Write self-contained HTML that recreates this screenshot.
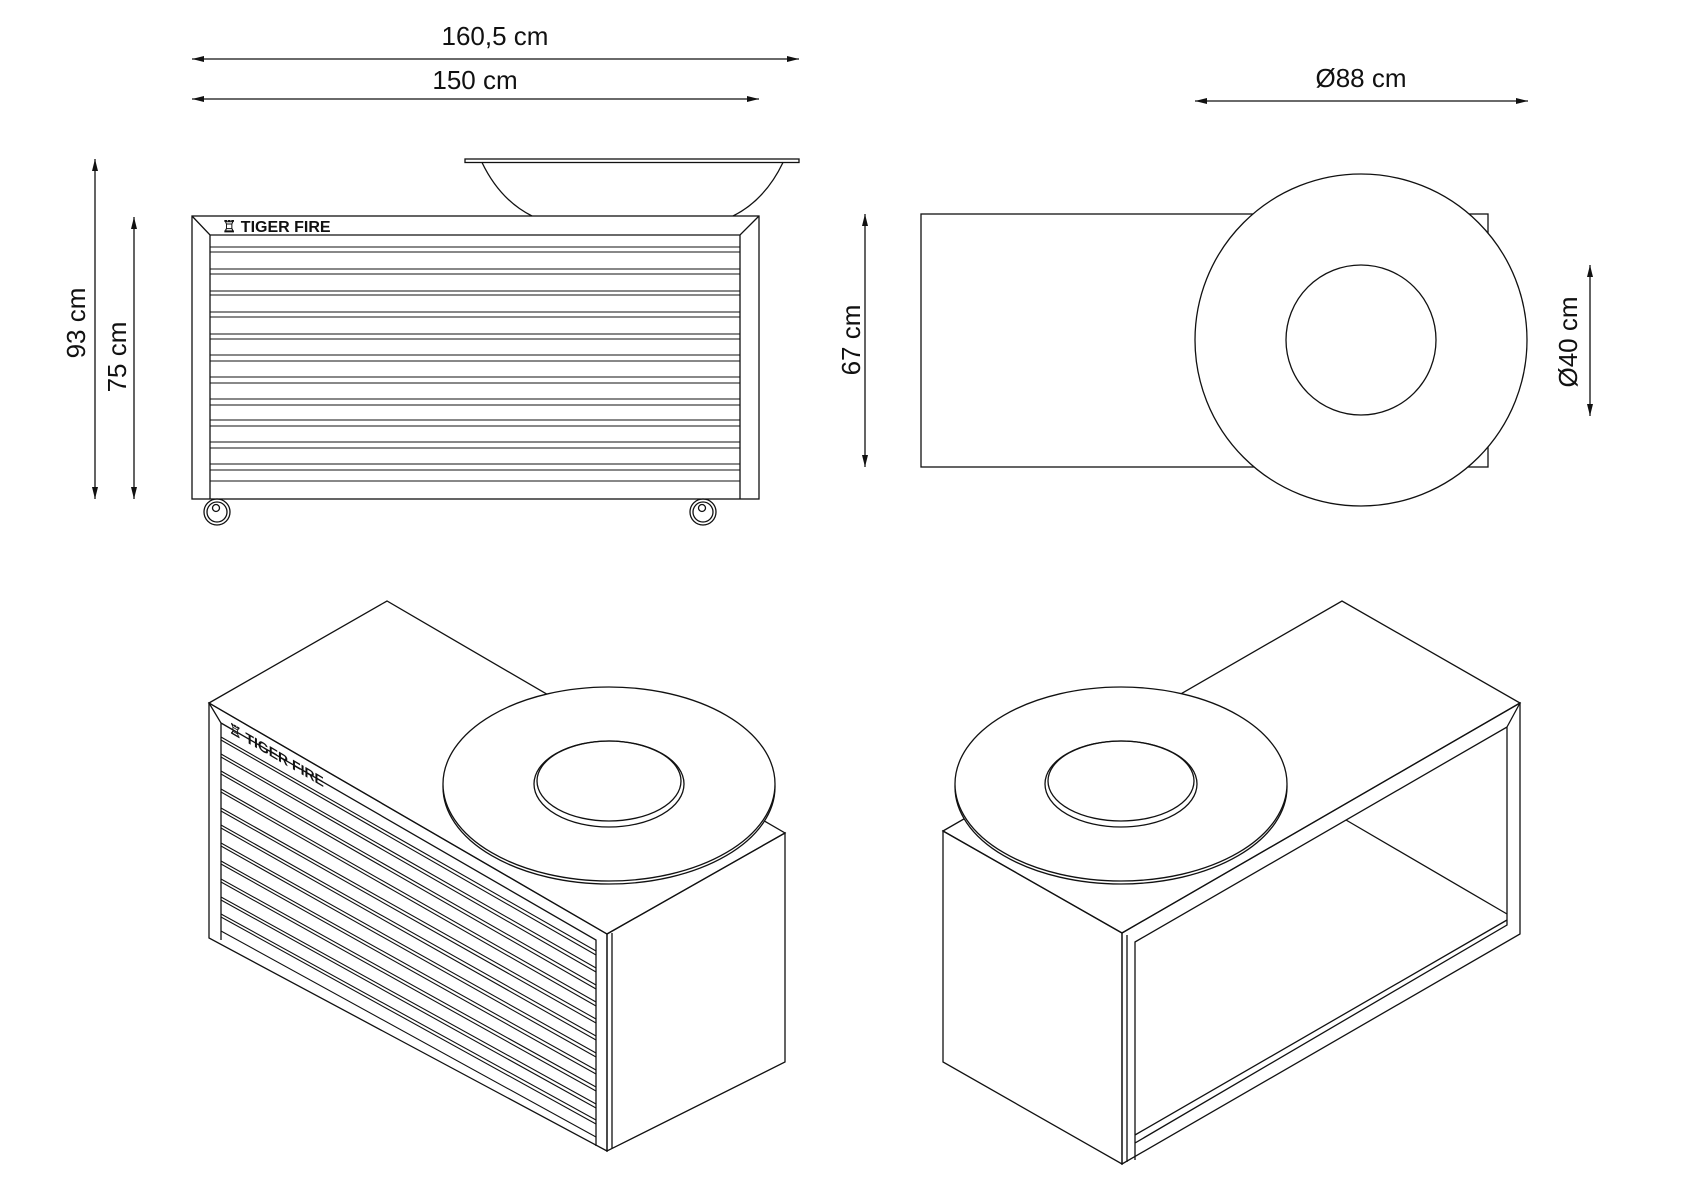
<!DOCTYPE html>
<html><head><meta charset="utf-8"><style>
html,body{margin:0;padding:0;background:#fff;}
svg{display:block;}
text{font-family:"Liberation Sans",sans-serif;fill:#111;}
</style></head><body>
<svg width="1684" height="1190" viewBox="0 0 1684 1190" xmlns="http://www.w3.org/2000/svg">
<defs>
<marker id="a" viewBox="0 0 12 6" refX="12" refY="3" markerWidth="12" markerHeight="6" orient="auto-start-reverse" markerUnits="userSpaceOnUse"><path d="M0,0 L12,3 L0,6 Z" fill="#111"/></marker>
</defs>
<g stroke="#111" stroke-width="1.3" fill="none">
<!-- dimension lines -->
<line x1="192" y1="59" x2="799" y2="59" marker-start="url(#a)" marker-end="url(#a)"/>
<line x1="192" y1="99" x2="759" y2="99" marker-start="url(#a)" marker-end="url(#a)"/>
<line x1="95" y1="159" x2="95" y2="499" marker-start="url(#a)" marker-end="url(#a)"/>
<line x1="134" y1="217" x2="134" y2="499" marker-start="url(#a)" marker-end="url(#a)"/>
<line x1="1195" y1="101" x2="1528" y2="101" marker-start="url(#a)" marker-end="url(#a)"/>
<line x1="865" y1="214" x2="865" y2="467" marker-start="url(#a)" marker-end="url(#a)"/>
<line x1="1590" y1="265" x2="1590" y2="416" marker-start="url(#a)" marker-end="url(#a)"/>

<!-- side view -->
<rect x="465" y="159" width="334" height="3.5"/>
<path d="M482,162.5 Q500,200 532,216 M783,162.5 Q765,200 733,216"/>
<rect x="192" y="216" width="567" height="283"/>
<path d="M192,216 L210,235 L740,235 L759,216 M210,235 L210,499 M740,235 L740,499"/>
<g stroke-width="1.1">
<path d="M210,247H740M210,252H740M210,269H740M210,274H740M210,291H740M210,295H740M210,312H740M210,317H740M210,334H740M210,339H740M210,355H740M210,361H740M210,377H740M210,383H740M210,399H740M210,405H740M210,420H740M210,426H740M210,442H740M210,448H740M210,464H740M210,470H740M210,481H740"/>
</g>
<circle cx="217" cy="512" r="13"/><circle cx="217" cy="512" r="10"/><circle cx="216" cy="508" r="3.5"/>
<circle cx="703" cy="512" r="13"/><circle cx="703" cy="512" r="10"/><circle cx="702" cy="508" r="3.5"/>

<!-- top view -->
<rect x="921" y="214" width="567" height="253"/>
<circle cx="1361" cy="340" r="166" fill="#fff"/>
<circle cx="1361" cy="340" r="75"/>

<!-- iso left -->
<path d="M209,703 L387,601 L785,833 L607,934 Z"/>
<path d="M209,703 L607,934 L607,1151 L209,938 Z"/>
<path d="M607,934 L785,833 L785,1062 L607,1151 Z"/>
<path d="M209,703 L221,723 L221,940 M221,723 L596,940 L596,1146 M612,933 L612,1148"/>
<g stroke-width="1.1">
<path d="M221,737 L596,951 M221,740 L596,955 M221,754 L596,968 M221,757 L596,972 M221,771 L596,985 M221,774 L596,989 M221,789 L596,1002 M221,792 L596,1006 M221,808 L596,1019 M221,811 L596,1023 M221,825 L596,1036 M221,828 L596,1040 M221,843 L596,1053 M221,846 L596,1057 M221,861 L596,1070 M221,864 L596,1074 M221,879 L596,1087 M221,882 L596,1091 M221,897 L596,1104 M221,900 L596,1108 M221,914 L596,1120 M221,917 L596,1124 M221,931 L596,1137"/>
</g>
<ellipse cx="609" cy="787" rx="166" ry="97" fill="#fff"/>
<ellipse cx="609" cy="784" rx="166" ry="97" fill="#fff"/>
<ellipse cx="609" cy="784" rx="75" ry="43"/>
<ellipse cx="609" cy="781" rx="72" ry="40"/>

<!-- iso right -->
<path d="M943,831 L1342,601 L1520,703 L1122,933 Z"/>
<path d="M943,831 L1122,933 L1122,1164 L943,1062 Z"/>
<path d="M1122,933 L1520,703 L1520,934 L1122,1164 Z"/>
<path d="M1135,942 L1507,727 L1507,925 L1135,1143 Z M1135,942 L1135,1160 M1507,727 L1520,703 M1346,820 L1507,914 M1135,1135 L1507,920 M1127,935 L1127,1162"/>
<ellipse cx="1121" cy="787" rx="166" ry="97" fill="#fff"/>
<ellipse cx="1121" cy="784" rx="166" ry="97" fill="#fff"/>
<ellipse cx="1121" cy="784" rx="76" ry="43"/>
<ellipse cx="1121" cy="781" rx="73" ry="40"/>
</g>

<text x="495" y="45" font-size="26" text-anchor="middle">160,5 cm</text>
<text x="475" y="89" font-size="26" text-anchor="middle">150 cm</text>
<text x="1361" y="87" font-size="26" text-anchor="middle">Ø88 cm</text>
<text transform="translate(85,323) rotate(-90)" font-size="26" text-anchor="middle">93 cm</text>
<text transform="translate(126,357) rotate(-90)" font-size="26" text-anchor="middle">75 cm</text>
<text transform="translate(860,340) rotate(-90)" font-size="26" text-anchor="middle">67 cm</text>
<text transform="translate(1577,342) rotate(-90)" font-size="26" text-anchor="middle">Ø40 cm</text>
<text x="222" y="232" font-size="16" font-weight="bold">♖ TIGER FIRE</text>
<text transform="matrix(1,0.583,0,1,229,732)" font-size="14" font-weight="bold">♖ TIGER FIRE</text>
</svg>
</body></html>
